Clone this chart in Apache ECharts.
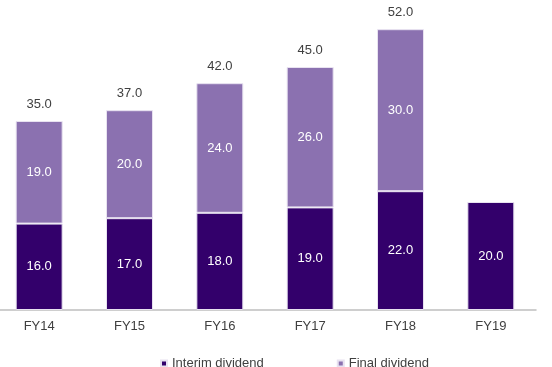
<!DOCTYPE html>
<html>
<head>
<meta charset="utf-8">
<script src="https://cdn.jsdelivr.net/npm/echarts@6/dist/echarts.min.js"></script>
<style>html,body{margin:0;padding:0;background:#fff;overflow:hidden}#c{position:absolute;left:-6px;top:0;width:558px;height:367px}</style>
</head>
<body>
<div id="c"></div>
<script>
const categories = ['FY14', 'FY15', 'FY16', 'FY17', 'FY18', 'FY19'];
const interim = [16.0, 17.0, 18.0, 19.0, 22.0, 20.0];
const finalDiv = [19.0, 20.0, 24.0, 26.0, 30.0, null];
const totals = [35.0, 37.0, 42.0, 45.0, 52.0, null];

const chart = echarts.init(document.getElementById('c'));
const font = 'Liberation Sans, Arial, sans-serif';
chart.setOption({
  animation: false,
  grid: { left: 0, right: 16, top: 13, bottom: 57, containLabel: false },
  xAxis: {
    type: 'category', data: categories,
    axisLine: { lineStyle: { color: '#bfbfbf', width: 1.5 } },
    axisTick: { show: false },
    axisLabel: { color: '#404040', fontFamily: font, fontSize: 13, margin: 10 }
  },
  yAxis: { type: 'value', min: 0, max: 55, show: false, splitLine: { show: false } },
  legend: {
    top: 352, left: 161, itemWidth: 6, itemHeight: 6, itemGap: 73, icon: 'rect',
    textStyle: { color: '#404040', fontFamily: font, fontSize: 13 },
    data: ['Interim dividend', 'Final dividend']
  },
  series: [
    {
      name: 'Interim dividend', type: 'bar', stack: 'a', data: interim, barWidth: '52%',
      itemStyle: { color: '#33006b', borderColor: '#e8e2f0', borderWidth: 1 },
      label: { show: true, position: 'inside', color: '#fff', fontFamily: font, fontSize: 13,
        formatter: p => p.value.toFixed(1) }
    },
    {
      name: 'Final dividend', type: 'bar', stack: 'a', data: finalDiv,
      itemStyle: { color: '#8b71b0', borderColor: '#e8e2f0', borderWidth: 1 },
      label: { show: true, position: 'inside', color: '#fff', fontFamily: font, fontSize: 13,
        formatter: p => p.value.toFixed(1) }
    },
    {
      name: 'Total', type: 'bar', stack: 'a', data: totals.map(v => v == null ? null : 0),
      itemStyle: { color: 'transparent' },
      label: { show: true, position: 'top', distance: 10, color: '#404040', fontFamily: font, fontSize: 13,
        formatter: p => totals[p.dataIndex] == null ? '' : totals[p.dataIndex].toFixed(1) }
    }
  ]
});
</script>
</body>
</html>
